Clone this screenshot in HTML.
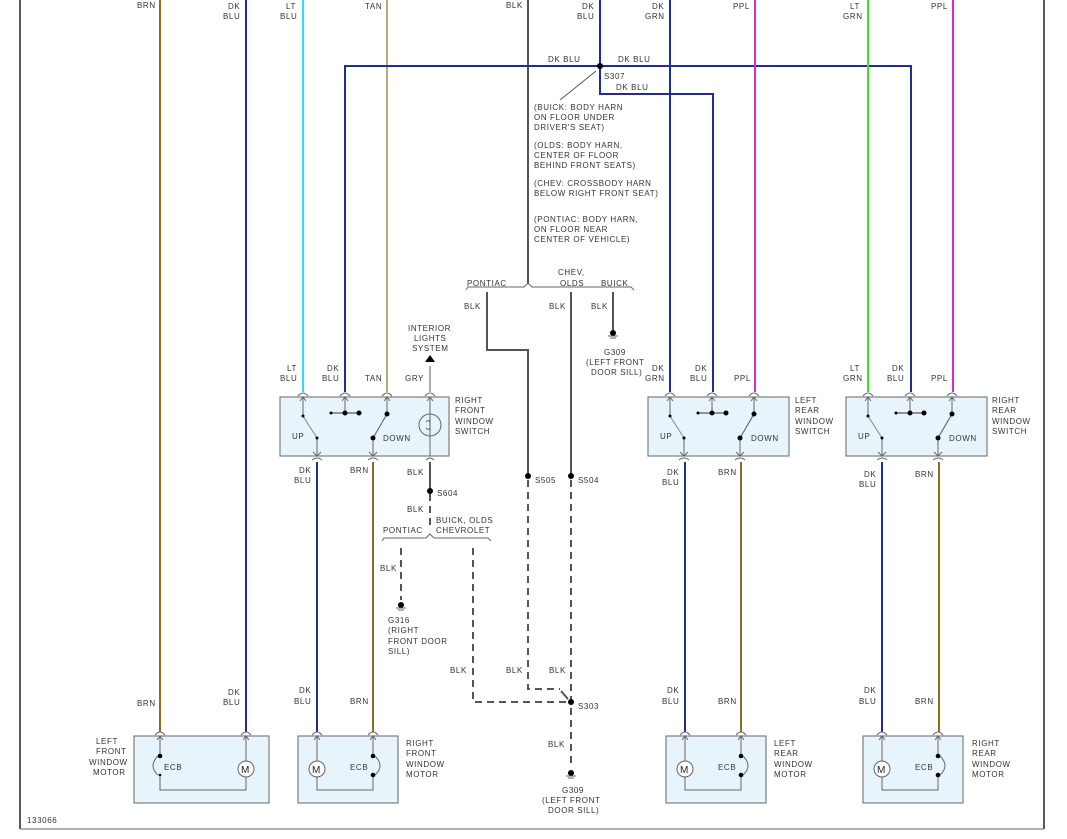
<!DOCTYPE html>
<html><head><meta charset="utf-8"><style>
html,body{margin:0;padding:0;background:#fff}
svg{display:block}
text{font-family:"Liberation Sans",sans-serif;font-size:8px;fill:#333;letter-spacing:0.6px}
.b{fill:#e8f4fb;stroke:#666;stroke-width:1}
.g{stroke:#666;stroke-width:1;fill:none}
.d{stroke:#555;stroke-width:2;fill:none;stroke-dasharray:7,5}
</style></head><body>
<svg width="1067" height="839" viewBox="0 0 1067 839" xmlns="http://www.w3.org/2000/svg">
<defs>
<g id="ca"><path d="M-5,4 Q0,-2 5,4" class="g"/><path d="M-3,9 L0,5 L3,9" class="g"/></g>
<g id="gnd"><circle cx="0" cy="0" r="3" fill="#000"/><line x1="-5" y1="3" x2="5" y2="3" stroke="#666"/><line x1="-3" y1="5" x2="3" y2="5" stroke="#666"/></g>
</defs>
<!-- frame -->
<line x1="20" y1="0" x2="20" y2="829" stroke="#222" stroke-width="1.5"/>
<line x1="1044" y1="0" x2="1044" y2="829" stroke="#222" stroke-width="1.5"/>
<line x1="20" y1="829" x2="1044" y2="829" stroke="#666" stroke-width="1"/>
<text x="27" y="823">133066</text>

<!-- top wires -->
<g stroke-width="2" fill="none">
<line x1="160" y1="0" x2="160" y2="732" stroke="#8a6d1e"/>
<line x1="246" y1="0" x2="246" y2="732" stroke="#1f2f8f"/>
<line x1="303" y1="0" x2="303" y2="392" stroke="#22e4f5"/>
<line x1="387" y1="0" x2="387" y2="392" stroke="#b9a77c"/>
<line x1="430" y1="366" x2="430" y2="392" stroke="#aaa"/>
<line x1="528" y1="0" x2="528" y2="284" stroke="#555"/>
<path d="M600,0 V66" stroke="#1f2f8f"/>
<path d="M345,392 V66 H911 V392" stroke="#1f2f8f"/>
<path d="M600,66 V94 H713 V392" stroke="#1f2f8f"/>
<line x1="670" y1="0" x2="670" y2="392" stroke="#1f2f8f"/>
<line x1="755" y1="0" x2="755" y2="392" stroke="#e024e0"/>
<line x1="868" y1="0" x2="868" y2="392" stroke="#3fe020"/>
<line x1="953" y1="0" x2="953" y2="392" stroke="#e024e0"/>
<path d="M487,292 V350 H528 V476" stroke="#555"/>
<line x1="571" y1="292" x2="571" y2="476" stroke="#555"/>
<line x1="613" y1="292" x2="613" y2="330" stroke="#555"/>
<line x1="430" y1="462" x2="430" y2="491" stroke="#555"/>
<line x1="317" y1="462" x2="317" y2="732" stroke="#1f2f8f"/>
<line x1="373" y1="462" x2="373" y2="732" stroke="#8a6d1e"/>
<line x1="685" y1="462" x2="685" y2="732" stroke="#1f2f8f"/>
<line x1="741" y1="462" x2="741" y2="732" stroke="#8a6d1e"/>
<line x1="882" y1="462" x2="882" y2="732" stroke="#1f2f8f"/>
<line x1="939" y1="462" x2="939" y2="732" stroke="#8a6d1e"/>
</g>
<circle cx="600" cy="66" r="3" fill="#000"/>
<line x1="560" y1="100" x2="596" y2="71" stroke="#555"/>
<text x="548" y="62">DK BLU</text><text x="618" y="62">DK BLU</text>
<text x="604" y="79">S307</text><text x="616" y="90">DK BLU</text>
<text x="534" y="110">(BUICK: BODY HARN</text><text x="534" y="120">ON FLOOR UNDER</text><text x="534" y="130">DRIVER'S SEAT)</text>
<text x="534" y="148">(OLDS: BODY HARN,</text><text x="534" y="158">CENTER OF FLOOR</text><text x="534" y="168">BEHIND FRONT SEATS)</text>
<text x="534" y="186">(CHEV: CROSSBODY HARN</text><text x="534" y="196">BELOW RIGHT FRONT SEAT)</text>
<text x="534" y="222">(PONTIAC: BODY HARN,</text><text x="534" y="232">ON FLOOR NEAR</text><text x="534" y="242">CENTER OF VEHICLE)</text>

<!-- top labels -->
<text x="137" y="8">BRN</text>
<text x="228" y="9">DK</text><text x="223" y="19">BLU</text>
<text x="286" y="9">LT</text><text x="280" y="19">BLU</text>
<text x="365" y="9">TAN</text>
<text x="506" y="8">BLK</text>
<text x="582" y="9">DK</text><text x="577" y="19">BLU</text>
<text x="652" y="9">DK</text><text x="645" y="19">GRN</text>
<text x="733" y="9">PPL</text>
<text x="850" y="9">LT</text><text x="843" y="19">GRN</text>
<text x="931" y="9">PPL</text>

<!-- bracket top -->
<path d="M466,290 L468,287 H524 L528,283 L532,287 H631 L634,290" class="g"/>
<text x="467" y="286">PONTIAC</text><text x="558" y="275">CHEV,</text><text x="560" y="286">OLDS</text><text x="601" y="286">BUICK</text>
<text x="464" y="309">BLK</text><text x="549" y="309">BLK</text><text x="591" y="309">BLK</text>
<use href="#gnd" x="613" y="333"/>
<text x="604" y="355">G309</text><text x="586" y="365">(LEFT FRONT</text><text x="591" y="375">DOOR SILL)</text>

<!-- interior lights -->
<text x="408" y="331">INTERIOR</text><text x="414" y="341">LIGHTS</text><text x="412" y="351">SYSTEM</text>
<path d="M425,362 L430,355 L435,362 Z" fill="#000"/>

<!-- switch labels above -->
<text x="287" y="371">LT</text><text x="280" y="381">BLU</text>
<text x="327" y="371">DK</text><text x="322" y="381">BLU</text>
<text x="365" y="381">TAN</text><text x="405" y="381">GRY</text>
<text x="652" y="371">DK</text><text x="645" y="381">GRN</text>
<text x="695" y="371">DK</text><text x="690" y="381">BLU</text>
<text x="734" y="381">PPL</text>
<text x="850" y="371">LT</text><text x="843" y="381">GRN</text>
<text x="892" y="371">DK</text><text x="887" y="381">BLU</text>
<text x="931" y="381">PPL</text>

<!-- switches -->
<g id="sw">
<rect x="280" y="397" width="169" height="59" class="b"/>
<line x1="303" y1="397" x2="303" y2="416" class="g"/><line x1="345" y1="397" x2="345" y2="413" class="g"/><line x1="387" y1="397" x2="387" y2="413" class="g"/>
<line x1="317" y1="438" x2="317" y2="456" class="g"/><line x1="373" y1="438" x2="373" y2="456" class="g"/>
<line x1="303" y1="416" x2="317" y2="438" stroke="#888"/>
<line x1="387" y1="414" x2="373" y2="438" stroke="#555"/>
<line x1="331" y1="413" x2="359" y2="413" stroke="#333"/>
<circle cx="303" cy="416" r="1.5" fill="#000"/><circle cx="317" cy="438" r="1.5" fill="#000"/>
<circle cx="331" cy="413" r="1.5" fill="#000"/><circle cx="345" cy="413" r="2.5" fill="#000"/><circle cx="359" cy="413" r="2.5" fill="#000"/>
<circle cx="387" cy="414" r="2.5" fill="#000"/><circle cx="373" cy="438" r="2.5" fill="#000"/>
<use href="#ca" x="303" y="392"/><use href="#ca" x="345" y="392"/><use href="#ca" x="387" y="392"/>
<path d="M313,452 L317,456 L321,452 M312,460 Q317,456 322,460" class="g"/>
<path d="M369,452 L373,456 L377,452 M368,460 Q373,456 378,460" class="g"/>
</g>
<text x="292" y="439">UP</text><text x="383" y="441">DOWN</text>
<use href="#ca" x="430" y="392"/>
<line x1="430" y1="397" x2="430" y2="456" class="g"/>
<circle cx="430" cy="425" r="11" class="g"/>
<path d="M426,422 Q430,418 430,425 Q430,432 426,428" class="g"/>
<path d="M426,460 Q430,456 434,460" class="g"/>
<text x="455" y="403">RIGHT</text><text x="455" y="413">FRONT</text><text x="455" y="424">WINDOW</text><text x="455" y="434">SWITCH</text>

<g transform="translate(367,0)">
<rect x="281" y="397" width="141" height="59" class="b"/>
<line x1="303" y1="397" x2="303" y2="416" class="g"/><line x1="345" y1="397" x2="345" y2="413" class="g"/><line x1="387" y1="397" x2="387" y2="413" class="g"/>
<line x1="317" y1="438" x2="317" y2="456" class="g"/><line x1="373" y1="438" x2="373" y2="456" class="g"/>
<line x1="303" y1="416" x2="317" y2="438" stroke="#888"/><line x1="387" y1="414" x2="373" y2="438" stroke="#555"/>
<line x1="331" y1="413" x2="359" y2="413" stroke="#333"/>
<circle cx="303" cy="416" r="1.5" fill="#000"/><circle cx="317" cy="438" r="1.5" fill="#000"/><circle cx="331" cy="413" r="1.5" fill="#000"/><circle cx="345" cy="413" r="2.5" fill="#000"/><circle cx="359" cy="413" r="2.5" fill="#000"/><circle cx="387" cy="414" r="2.5" fill="#000"/><circle cx="373" cy="438" r="2.5" fill="#000"/>
<use href="#ca" x="303" y="392"/><use href="#ca" x="345" y="392"/><use href="#ca" x="387" y="392"/>
<path d="M313,452 L317,456 L321,452 M312,460 Q317,456 322,460 M369,452 L373,456 L377,452 M368,460 Q373,456 378,460" class="g"/>
<text x="293" y="439">UP</text><text x="384" y="441">DOWN</text>
</g>
<text x="795" y="403">LEFT</text><text x="795" y="413">REAR</text><text x="795" y="424">WINDOW</text><text x="795" y="434">SWITCH</text>
<g transform="translate(565,0)">
<rect x="281" y="397" width="141" height="59" class="b"/>
<line x1="303" y1="397" x2="303" y2="416" class="g"/><line x1="345" y1="397" x2="345" y2="413" class="g"/><line x1="387" y1="397" x2="387" y2="413" class="g"/>
<line x1="317" y1="438" x2="317" y2="456" class="g"/><line x1="373" y1="438" x2="373" y2="456" class="g"/>
<line x1="303" y1="416" x2="317" y2="438" stroke="#888"/><line x1="387" y1="414" x2="373" y2="438" stroke="#555"/>
<line x1="331" y1="413" x2="359" y2="413" stroke="#333"/>
<circle cx="303" cy="416" r="1.5" fill="#000"/><circle cx="317" cy="438" r="1.5" fill="#000"/><circle cx="331" cy="413" r="1.5" fill="#000"/><circle cx="345" cy="413" r="2.5" fill="#000"/><circle cx="359" cy="413" r="2.5" fill="#000"/><circle cx="387" cy="414" r="2.5" fill="#000"/><circle cx="373" cy="438" r="2.5" fill="#000"/>
<use href="#ca" x="303" y="392"/><use href="#ca" x="345" y="392"/><use href="#ca" x="387" y="392"/>
<path d="M313,452 L317,456 L321,452 M312,460 Q317,456 322,460 M369,452 L373,456 L377,452 M368,460 Q373,456 378,460" class="g"/>
<text x="293" y="439">UP</text><text x="384" y="441">DOWN</text>
</g>
<text x="992" y="403">RIGHT</text><text x="992" y="413">REAR</text><text x="992" y="424">WINDOW</text><text x="992" y="434">SWITCH</text>

<!-- below-switch labels -->
<text x="299" y="473">DK</text><text x="294" y="483">BLU</text><text x="350" y="473">BRN</text><text x="407" y="475">BLK</text>
<text x="667" y="475">DK</text><text x="662" y="485">BLU</text><text x="718" y="475">BRN</text>
<text x="864" y="477">DK</text><text x="859" y="487">BLU</text><text x="915" y="477">BRN</text>

<!-- S604 and dashes -->
<circle cx="430" cy="491" r="3" fill="#000"/><text x="437" y="496">S604</text>
<text x="407" y="512">BLK</text>
<path d="M430,494 V526" class="d"/>
<path d="M382,541 L384,538 H426 L430,534 L434,538 H488 L491,541" class="g"/>
<text x="383" y="533">PONTIAC</text><text x="436" y="523">BUICK, OLDS</text><text x="436" y="533">CHEVROLET</text>
<path d="M401,548 V600" class="d"/>
<text x="380" y="571">BLK</text>
<use href="#gnd" x="401" y="605"/>
<text x="388" y="623">G316</text><text x="388" y="633">(RIGHT</text><text x="388" y="644">FRONT DOOR</text><text x="388" y="654">SILL)</text>
<path d="M473,548 V702 H571" class="d"/>
<circle cx="528" cy="476" r="3" fill="#000"/><text x="535" y="483">S505</text>
<circle cx="571" cy="476" r="3" fill="#000"/><text x="578" y="483">S504</text>
<path d="M528,480 V689 H560" class="d"/><line x1="561" y1="691" x2="568" y2="699" stroke="#555" stroke-width="2"/>
<path d="M571,480 V768" class="d"/>
<circle cx="571" cy="702" r="3" fill="#000"/><text x="578" y="709">S303</text>
<text x="450" y="673">BLK</text><text x="506" y="673">BLK</text><text x="549" y="673">BLK</text><text x="548" y="747">BLK</text>
<use href="#gnd" x="571" y="773"/>
<text x="562" y="793">G309</text><text x="542" y="803">(LEFT FRONT</text><text x="548" y="813">DOOR SILL)</text>

<!-- motor labels -->
<text x="137" y="706">BRN</text><text x="228" y="695">DK</text><text x="223" y="705">BLU</text>
<text x="299" y="693">DK</text><text x="294" y="704">BLU</text><text x="350" y="704">BRN</text>
<text x="667" y="693">DK</text><text x="662" y="704">BLU</text><text x="718" y="704">BRN</text>
<text x="864" y="693">DK</text><text x="859" y="704">BLU</text><text x="915" y="704">BRN</text>

<!-- motors -->
<rect x="134" y="736" width="135" height="67" class="b"/>
<use href="#ca" x="160" y="731"/><use href="#ca" x="246" y="731"/>
<path d="M160,736 V756 M160,775 V790 H246 V736" class="g"/>
<path d="M158,756 Q148,766 158,775" class="g"/>
<circle cx="160" cy="756" r="2.3" fill="#000"/><circle cx="160" cy="775" r="1.3" fill="#000"/>
<text x="164" y="770">ECB</text>
<circle cx="246" cy="769" r="8" fill="#fff" stroke="#666"/><text x="241" y="773" style="font-size:10px;letter-spacing:0;fill:#222">M</text>
<text x="96" y="744">LEFT</text><text x="96" y="754">FRONT</text><text x="89" y="765">WINDOW</text><text x="93" y="775">MOTOR</text>

<g id="rm">
<rect x="298" y="736" width="100" height="67" class="b"/>
<use href="#ca" x="317" y="731"/><use href="#ca" x="373" y="731"/>
<path d="M373,736 V756 M373,775 V790 H317 V736" class="g"/>
<path d="M375,756 Q385,766 375,775" class="g"/>
<circle cx="373" cy="756" r="2.3" fill="#000"/><circle cx="373" cy="775" r="2.3" fill="#000"/>
<text x="350" y="770">ECB</text>
<circle cx="317" cy="769" r="8" fill="#fff" stroke="#666"/><text x="312" y="773" style="font-size:10px;letter-spacing:0;fill:#222">M</text>
</g>
<text x="406" y="746">RIGHT</text><text x="406" y="756">FRONT</text><text x="406" y="767">WINDOW</text><text x="406" y="777">MOTOR</text>
<use href="#rm" x="368" y="0"/>
<text x="774" y="746">LEFT</text><text x="774" y="756">REAR</text><text x="774" y="767">WINDOW</text><text x="774" y="777">MOTOR</text>
<use href="#rm" x="565" y="0"/>
<text x="972" y="746">RIGHT</text><text x="972" y="756">REAR</text><text x="972" y="767">WINDOW</text><text x="972" y="777">MOTOR</text>
</svg>
</body></html>
